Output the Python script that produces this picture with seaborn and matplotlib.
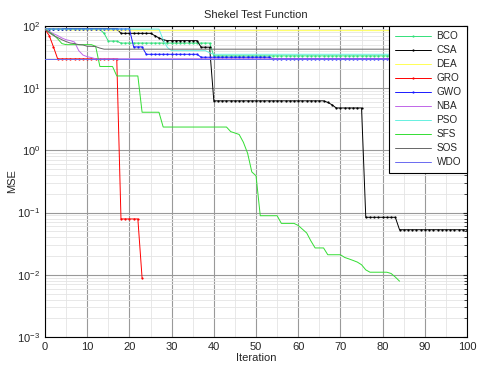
import numpy as np
import pandas as pd
import matplotlib
matplotlib.use("Agg")
import matplotlib.pyplot as plt
import seaborn as sns

# Convergence curves, stored as runs: iteration where each value starts, value, last iteration
bco_start = [0, 14, 15, 18, 40]
bco_mse = [88, 76, 57, 53, 33]
bco_end = 100

csa_start = [0, 18, 26, 27, 28, 29, 37, 40, 67, 68, 69, 76, 84]
csa_mse = [90, 76, 70, 64, 60, 58, 45.5, 6.25, 5.9, 5.4, 4.8, 0.084, 0.053]
csa_end = 100

dea_start = [0, 5, 15]
dea_mse = [90, 86, 84]
dea_end = 100

gro_start = [0, 1, 2, 3, 18, 23]
gro_mse = [88, 70, 46, 29.5, 0.079, 0.0089]
gro_end = 23

gwo_start = [0, 21, 24, 37, 54]
gwo_mse = [89.5, 46, 35, 31.4, 29.8]
gwo_end = 100

nba_start = [0, 1, 2, 3, 4, 5, 6, 7, 8, 9, 10, 11, 12]
nba_mse = [90, 82, 75, 70, 64, 60, 58, 55, 40, 34, 32, 31, 29.6]
nba_end = 100

pso_start = [0, 28, 29, 30, 39, 40]
pso_mse = [89, 60, 45, 40, 37, 35]
pso_end = 100

sfs_start = [0, 1, 2, 3, 4, 5, 12, 13, 17, 23, 28, 44, 45, 46, 47, 48, 49, 50,
             51, 56, 60, 61, 62, 63, 64, 67, 71, 72, 73, 74, 75, 76, 77, 82, 83, 84]
sfs_mse = [88, 80, 72, 62, 52, 50, 47, 22.3, 15.7, 4.1, 2.37, 2.0, 1.9, 1.8, 1.35, 0.9, 0.45, 0.39,
           0.089, 0.067, 0.062, 0.054, 0.047, 0.035, 0.027, 0.021, 0.019, 0.018, 0.017, 0.016,
           0.0145, 0.012, 0.011, 0.0105, 0.0092, 0.0079]
sfs_end = 84

sos_start = [0, 1, 2, 3, 4, 5, 6, 7, 8, 9, 10, 12, 13, 14]
sos_mse = [88, 78, 70, 65, 60, 56, 53, 52, 50, 49.5, 47, 46.5, 44, 42.3]
sos_end = 100

wdo_start = [0]
wdo_mse = [29.3]
wdo_end = 100

names = ["BCO", "CSA", "DEA", "GRO", "GWO", "NBA", "PSO", "SFS", "SOS", "WDO"]
runs = [
    (bco_start, bco_mse, bco_end),
    (csa_start, csa_mse, csa_end),
    (dea_start, dea_mse, dea_end),
    (gro_start, gro_mse, gro_end),
    (gwo_start, gwo_mse, gwo_end),
    (nba_start, nba_mse, nba_end),
    (pso_start, pso_mse, pso_end),
    (sfs_start, sfs_mse, sfs_end),
    (sos_start, sos_mse, sos_end),
    (wdo_start, wdo_mse, wdo_end),
]
colors = ["#33e07a", "black", "#ffff55", "red", "#1a1aff",
          "#c066e8", "#66f0e0", "#33dd33", "#666666", "#6a6af0"]
marked = {"BCO", "CSA", "GRO", "GWO"}

# decode runs into one value per iteration
frames = []
for name, (start, mse, end) in zip(names, runs):
    counts = np.diff(start + [end + 1])
    it = np.arange(0, end + 1)
    frames.append(pd.DataFrame({"Iteration": it, "MSE": np.repeat(mse, counts), "Algo": name}))
df = pd.concat(frames, ignore_index=True)

sns.set_style("white")
plt.rcParams["font.family"] = ["Liberation Sans", "DejaVu Sans"]

fig = plt.figure(figsize=(4.84, 3.73), dpi=100)
ax = fig.add_axes([0.093, 0.0965, 0.872, 0.834])

for name, col in zip(names, colors):
    sub = df[df["Algo"] == name]
    sns.lineplot(data=sub, x="Iteration", y="MSE", ax=ax, color=col, label=name,
                 estimator=None, sort=False, linewidth=0.7,
                 marker="." if name in marked else None, markersize=3.2,
                 markeredgewidth=0, zorder=3)

ax.set_yscale("log")
ax.set_xlim(0, 100)
ax.set_ylim(1e-3, 1e2)
ax.set_xticks(np.arange(0, 101, 10))
ax.set_xticks(np.arange(0, 101, 5), minor=True)
ax.grid(True, which="major", color="#999999", linewidth=0.8)
ax.grid(True, which="minor", color="#e4e4e4", linewidth=0.6)
ax.tick_params(which="both", direction="in", top=True, right=True, labelsize=8, length=3)
ax.tick_params(which="minor", length=2)
for s in ax.spines.values():
    s.set_color("black")
    s.set_linewidth(0.8)

ax.set_xlabel("Iteration", fontsize=8, labelpad=1)
ax.set_ylabel("MSE", fontsize=8, labelpad=0)
ax.set_title("Shekel Test Function", fontsize=8, pad=6)

leg = ax.legend(loc="upper right", fontsize=7.2, handlelength=3.6, handletextpad=0.6,
                labelspacing=0.4, borderaxespad=0, fancybox=False, framealpha=1,
                borderpad=0.55)
leg.get_frame().set_edgecolor("black")
leg.get_frame().set_linewidth(0.8)

fig.savefig("out.png", dpi=100)
